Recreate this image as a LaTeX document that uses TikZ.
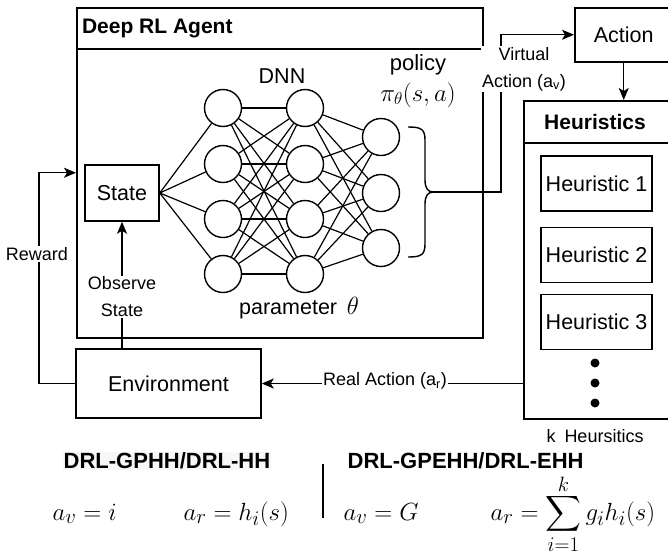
\documentclass[tikz,border=0pt]{standalone}
\usepackage{exscale}
\usepackage{fontspec}
\setmainfont{Liberation Sans}
\usetikzlibrary{arrows.meta}

\begin{document}
\begin{tikzpicture}[x=1pt,y=-1pt,line width=1.4pt,
  box/.style={draw,line width=1.5pt,inner sep=0pt},
  neuron/.style={circle,draw,line width=1.4pt,minimum size=37pt,inner sep=0pt},
  link/.style={line width=1.2pt},
  arr/.style={-{Stealth[length=12pt,width=10pt,inset=3pt]}},
  lbl/.style={fill=white,inner sep=1pt,align=center,font=\fontsize{18}{27}\selectfont},
  txt/.style={font=\fontsize{21.5}{26}\selectfont},
  hbox/.style={box,minimum width=111pt,minimum height=55pt,txt},
  dot/.style={circle,fill,inner sep=0pt,minimum size=9pt},
  heading/.style={font=\bfseries\fontsize{21}{25}\selectfont},
  subhead/.style={anchor=west,inner sep=1pt,font=\bfseries\fontsize{22}{26}\selectfont},
  eq/.style={anchor=base west,inner sep=0pt,font=\fontsize{27.5}{32}\selectfont}]

\useasboundingbox (0,0) rectangle (668,552);
\clip (0,0) rectangle (668,552);

% agent container
\node[box,anchor=north west,minimum width=406pt,minimum height=330pt] (agent) at (76,7) {};
\draw (76,49) -- (482,49);
\node[heading,anchor=west] (agenttitle) at (78,28) {Deep RL Agent};

% state
\node[box,minimum width=74pt,minimum height=56pt,txt] (state) at (122,193) {State};

% network layers
\foreach \i/\y in {1/108,2/164,3/219,4/274} {
  \node[neuron] (a\i) at (223,\y) {};
  \node[neuron] (b\i) at (305,\y) {};
}
\foreach \i/\y in {1/137,2/193,3/248} {
  \node[neuron] (c\i) at (381,\y) {};
}
\foreach \i in {1,...,4} {
  \draw[link] (state.east) -- (a\i);
  \foreach \j in {1,...,4} { \draw[link] (a\i) -- (b\j); }
  \foreach \j in {1,...,3} { \draw[link] (b\i) -- (c\j); }
}

\node[txt] (dnn) at (282,76) {DNN};
\node[font=\fontsize{22}{26}\selectfont] (policy) at (418,65) {policy};
\node[font=\fontsize{24.5}{30}\selectfont] (pi) at (418,95) {$\pi_\theta(s,a)$};
\node[txt] (param) at (299,308) {parameter\hspace{0.45em}{\fontsize{24}{28}\selectfont$\theta$}};

% brace gathering the outputs
\coordinate (bracetip) at (433,192);
\draw (408,127) .. controls (421,127) and (425,129) .. (425,140) -- (425,180)
  .. controls (425,188) and (428,192) .. (bracetip)
  .. controls (428,192) and (425,196) .. (425,204) -- (425,244)
  .. controls (425,255) and (421,257) .. (408,257);

% action and heuristics
\node[box,anchor=north west,minimum width=98pt,minimum height=54pt,txt] (action) at (574,7) {Action};
\node[box,anchor=north west,minimum width=150pt,minimum height=318pt] (heur) at (523,100) {};
\draw (523,143) -- (673,143);
\node[heading] (heurtitle) at (595,122) {Heuristics};
\node[hbox] (h1) at (596.5,183.5) {Heuristic 1};
\node[hbox] (h2) at (596.5,255) {Heuristic 2};
\node[hbox] (h3) at (596.5,322) {Heuristic 3};
\node[dot] (d1) at (595,363) {};
\node[dot] (d2) at (595,383) {};
\node[dot] (d3) at (595,403) {};
\node[font=\fontsize{18}{21}\selectfont] (kheur) at (595,436) {k\hspace{0.5em}Heursitics};

% environment
\node[box,minimum width=185pt,minimum height=69pt,txt] (env) at (168.5,383.5) {Environment};

% connectors
\draw[arr] (bracetip) -- (501,192) |- (action.west);
\node[lbl] (vlabel) at (524,69) {Virtual\\Action (a\textsubscript{v})};
\draw[arr] (action.south) -- (action.south |- heur.north);
\draw[arr] (heur.west |- env.east) -- (env.east);
\node[lbl] (rlabel) at (385,381) {Real Action (a\textsubscript{r})};
\draw[arr] (state.south |- env.north) -- (state.south);
\node[lbl] (olabel) at (122,297) {Observe\\State};
\draw[arr] (env.west) -- (39,383.5) |- (agent.west);
\node[lbl] (wlabel) at (37,254) {Reward};

% formulations
\node[subhead,fill=black!3] (gphh) at (62,461) {DRL-GPHH/DRL-HH};
\node[subhead] (gpehh) at (346,461) {DRL-GPEHH/DRL-EHH};
\coordinate (divtop) at (323,464);
\coordinate (divbot) at (323,518);
\draw (divtop) -- (divbot);
\node[eq] (e1) at (52,520) {$a_v = i$};
\node[eq] (e2) at (183,520) {$a_r = h_i(s)$};
\node[eq] (e3) at (343,520) {$a_v = G$};
\node[eq] (e4) at (490,520) {$a_r = \displaystyle\sum_{\raisebox{6pt}{$\scriptstyle i=1$}}^{\raisebox{-10pt}{$\scriptstyle k$}} g_i h_i(s)$};
\end{tikzpicture}
\end{document}
